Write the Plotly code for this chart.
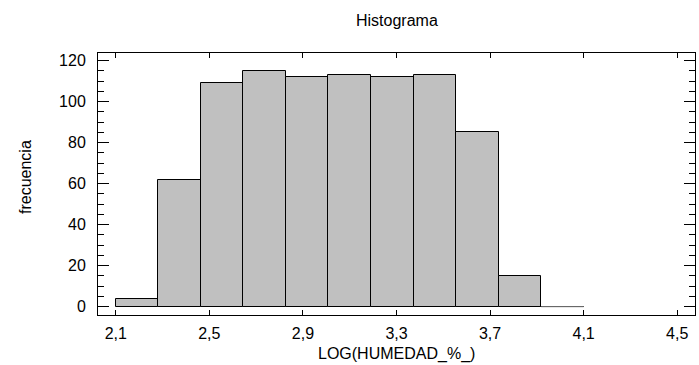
import plotly.graph_objects as go

# Data
bin_start = 2.1
bin_end = 4.1
counts = [4, 62, 109, 115, 112, 113, 112, 113, 85, 15, 0]
x_ticks = [2.1, 2.5, 2.9, 3.3, 3.7, 4.1, 4.5]
y_ticks = [0, 20, 40, 60, 80, 100, 120]
title_text = "Histograma"
x_title = "LOG(HUMEDAD_%_)"
y_title = "frecuencia"

n = len(counts)
width = (bin_end - bin_start) / n
centers = [bin_start + width * (i + 0.5) for i in range(n)]

fig = go.Figure()
fig.add_trace(go.Bar(
    x=centers, y=counts, width=[width] * n,
    marker=dict(color="#c0c0c0", line=dict(color="#000000", width=1)),
    showlegend=False, hoverinfo="x+y",
))
# empty bins still show their baseline edge
for i, c in enumerate(counts):
    if c == 0:
        fig.add_trace(go.Scatter(
            x=[bin_start + width * i, bin_start + width * (i + 1)], y=[0, 0],
            mode="lines", line=dict(color="#808080", width=1), showlegend=False,
        ))

W, H = 699, 365
L, R, T, B = 98, 4, 53, 50
pw, ph = W - L - R, H - T - B

font = "Liberation Sans, Arial, sans-serif"
fig.update_layout(
    width=W, height=H,
    margin=dict(l=L, r=R, t=T, b=B, autoexpand=False),
    paper_bgcolor="white", plot_bgcolor="white",
    separators=",.",
    bargap=0,
    font=dict(family=font, size=16, color="#000000"),
    xaxis=dict(
        range=[2.024, 4.576], tickvals=x_ticks, tickformat=".1f",
        ticks="inside", ticklen=5, tickcolor="#000", showline=True, linecolor="#000",
        linewidth=1, mirror="ticks", showgrid=False, zeroline=False,
        automargin=False, ticklabelstandoff=4,
    ),
    yaxis=dict(
        range=[-4.05, 123.75], tickvals=y_ticks,
        ticks="inside", ticklen=11, tickcolor="#000", showline=True, linecolor="#000",
        linewidth=1, mirror="ticks", showgrid=False, zeroline=False,
        minor=dict(dtick=5, ticks="inside", ticklen=6, tickcolor="#000"),
        automargin=False, ticklabelstandoff=8,
    ),
    annotations=[
        dict(text=title_text, xref="paper", yref="paper", x=0.5, y=1 + (T - 20.5) / ph,
             showarrow=False, xanchor="center", yanchor="middle", font=dict(size=16)),
        dict(text=x_title, xref="paper", yref="paper", x=0.5, y=-(354 - (H - B)) / ph,
             showarrow=False, xanchor="center", yanchor="middle", font=dict(size=16)),
        dict(text=y_title, xref="paper", yref="paper", x=-(L - 25) / pw, y=((H - B) - 177) / ph,
             showarrow=False, xanchor="center", yanchor="middle", textangle=-90,
             font=dict(size=16)),
    ],
)

fig.write_html("out.html", config={"displayModeBar": False},
               post_script="document.body.style.margin='0';")
